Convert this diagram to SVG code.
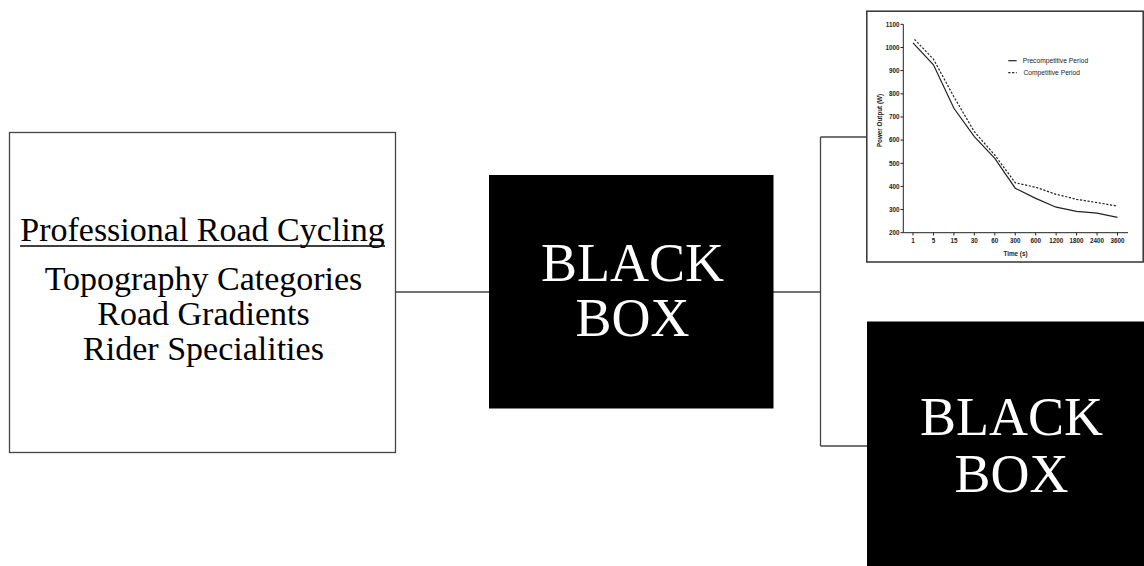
<svg xmlns="http://www.w3.org/2000/svg" width="1144" height="566" viewBox="0 0 1144 566">
<style>
.conn{stroke:#444;stroke-width:1.3;fill:none}
.serif{font-family:"Liberation Serif","Times New Roman",serif}
.bb{fill:#fff;font-size:54px;text-anchor:middle}
.lt{fill:#000;font-size:34px;text-anchor:middle}
.ax{stroke:#222;stroke-width:1;fill:none}
.tk{font-family:"Liberation Sans",Arial,sans-serif;font-weight:bold;font-size:6.3px;fill:#222}
.lg{font-family:"Liberation Sans",Arial,sans-serif;font-size:6.7px;fill:#222}
.sol{stroke:#222;stroke-width:1.2;fill:none}
.dsh{stroke:#222;stroke-width:1.2;fill:none;stroke-dasharray:2.2 1.6}
</style>
<rect width="1144" height="566" fill="#fff"/>
<g id="connectors">
<path class="conn" d="M395.5 292H489"/>
<path class="conn" d="M773 292H820.5"/>
<path class="conn" d="M820.5 137V446"/>
<path class="conn" d="M820.5 137H867"/>
<path class="conn" d="M820.5 446H867"/>
</g>
<g id="node-input">
<rect x="9.5" y="132.5" width="386" height="320" fill="#fff" stroke="#444" stroke-width="1.3"/>
<text class="serif lt" x="202.5" y="240.5">Professional Road Cycling</text>
<line x1="20" y1="246" x2="385" y2="246" stroke="#000" stroke-width="1.3"/>
<text class="serif lt" x="203.5" y="290">Topography Categories</text>
<text class="serif lt" x="203.5" y="324.5">Road Gradients</text>
<text class="serif lt" x="203.5" y="360">Rider Specialities</text>
</g>
<g id="node-blackbox1">
<rect x="489" y="175" width="284.5" height="233.5" fill="#000"/>
<text class="serif bb" x="632.5" y="281">BLACK</text>
<text class="serif bb" x="632.5" y="336">BOX</text>
</g>
<g id="node-chart">
<rect x="866.8" y="11.2" width="276.4" height="250.8" fill="#fff" stroke="#333" stroke-width="1.5"/>
<path class="ax" d="M903.3 24.3V232.7H1128"/>
<path class="ax" d="M900.5 24.3H903.3M900.5 47.5H903.3M900.5 70.6H903.3M900.5 93.8H903.3M900.5 117H903.3M900.5 140.1H903.3M900.5 163.3H903.3M900.5 186.4H903.3M900.5 209.6H903.3M900.5 232.7H903.3"/>
<path class="ax" d="M913 232.7v2.8M933.45 232.7v2.8M953.9 232.7v2.8M974.35 232.7v2.8M994.8 232.7v2.8M1015.25 232.7v2.8M1035.7 232.7v2.8M1056.15 232.7v2.8M1076.6 232.7v2.8M1097.05 232.7v2.8M1117.5 232.7v2.8"/>
<g class="tk" text-anchor="end">
<text x="899.5" y="26.6">1100</text>
<text x="899.5" y="49.8">1000</text>
<text x="899.5" y="72.9">900</text>
<text x="899.5" y="96.1">800</text>
<text x="899.5" y="119.3">700</text>
<text x="899.5" y="142.4">600</text>
<text x="899.5" y="165.6">500</text>
<text x="899.5" y="188.7">400</text>
<text x="899.5" y="211.9">300</text>
<text x="899.5" y="235">200</text>
</g>
<g class="tk" text-anchor="middle">
<text x="913" y="243">1</text>
<text x="933.45" y="243">5</text>
<text x="953.9" y="243">15</text>
<text x="974.35" y="243">30</text>
<text x="994.8" y="243">60</text>
<text x="1015.25" y="243">300</text>
<text x="1035.7" y="243">600</text>
<text x="1056.15" y="243">1200</text>
<text x="1076.6" y="243">1800</text>
<text x="1097.05" y="243">2400</text>
<text x="1117.5" y="243">3600</text>
</g>
<text class="tk" x="1015.5" y="256" text-anchor="middle" font-size="7.3">Time (s)</text>
<text class="tk" transform="translate(881.5 120.5) rotate(-90)" text-anchor="middle" font-size="7">Power Output (W)</text>
<polyline class="sol" points="913,42.8 933.45,64.8 953.9,108.3 974.35,136.6 994.8,158.4 1015.25,188.2 1035.7,198.4 1056.15,207.2 1076.6,211.4 1097.05,213.2 1117.5,217.4"/>
<polyline class="dsh" points="914.5,39.3 933.45,59.2 953.9,96.8 974.35,131.7 994.8,155.1 1015.25,182.7 1035.7,187.3 1056.15,194.3 1076.6,199.3 1097.05,202.6 1117.5,206.1"/>
<line class="sol" x1="1008.3" y1="60.7" x2="1016.7" y2="60.7"/>
<line class="dsh" x1="1008.3" y1="72.7" x2="1016.7" y2="72.7"/>
<text class="lg" x="1022.7" y="63">Precompetitive Period</text>
<text class="lg" x="1023.5" y="75">Competitive Period</text>
</g>
<g id="node-blackbox2">
<rect x="867" y="321.5" width="277" height="244.5" fill="#000"/>
<text class="serif bb" x="1011.5" y="435">BLACK</text>
<text class="serif bb" x="1011.5" y="491.5">BOX</text>
</g>
</svg>
